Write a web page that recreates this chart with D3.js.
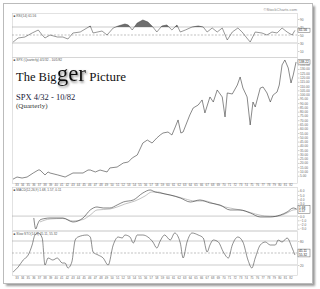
<!DOCTYPE html>
<html>
<head>
<meta charset="utf-8">
<script src="https://cdnjs.cloudflare.com/ajax/libs/d3/7.8.5/d3.min.js"></script>
<style>
body { margin: 0; background: #fff; }
svg { display: block; }
</style>
</head>
<body>
<div id="chart"></div>
<script>
// quarterly SPX
var priceDates = [1932.28, 1933.0, 1933.9, 1934.8, 1935.9, 1936.8, 1937.1, 1937.65, 1938.0, 1938.55, 1938.9, 1940.3, 1941.6, 1943.0, 1944.8, 1945.7, 1946.1, 1947.0, 1947.85, 1949.1, 1949.6, 1950.9, 1952.0, 1952.9, 1953.6, 1954.5, 1955.5, 1956.3, 1957.15, 1958.0, 1958.6, 1959.1, 1960.0, 1960.7, 1961.3, 1961.8, 1962.3, 1962.7, 1963.9, 1964.5, 1965.4, 1966.1, 1966.6, 1967.5, 1968.1, 1968.8, 1969.7, 1970.2, 1970.6, 1971.5, 1972.4, 1972.9, 1973.4, 1974.15, 1974.7, 1975.2, 1975.6, 1976.5, 1977.0, 1977.7, 1978.3, 1978.8, 1979.5, 1979.9, 1980.4, 1980.9, 1981.5, 1982.0, 1982.4, 1982.9];
var priceValues = [1.0, 3.5, 2.3, 3.5, 8.2, 11.7, 11.7, 8.2, 5.9, 9.4, 8.2, 5.9, 3.5, 8.2, 8.2, 11.7, 11.7, 9.4, 11.7, 9.4, 14.1, 15.2, 19.9, 21.1, 25.8, 29.3, 43.3, 46.8, 43.3, 49.2, 52.7, 55.0, 56.2, 52.7, 62.1, 70.3, 55.0, 56.2, 76.1, 84.3, 87.8, 93.7, 78.5, 97.2, 91.3, 105.4, 97.2, 73.8, 101.9, 100.7, 111.2, 120.6, 107.7, 97.2, 64.4, 91.3, 85.5, 107.7, 108.9, 101.9, 91.3, 99.5, 103.0, 111.2, 134.7, 140.5, 131.2, 113.6, 123.0, 138.2];

var rsiDates = [1932.3, 1933.2, 1934.4, 1935.7, 1936.8, 1937.5, 1938.0, 1938.9, 1940.2, 1941.2, 1942.1, 1943.0, 1944.3, 1945.5, 1946.1, 1946.6, 1948.2, 1949.1, 1950.2, 1951.1, 1952.3, 1952.9, 1953.6, 1954.5, 1955.5, 1956.4, 1957.3, 1958.0, 1958.9, 1959.8, 1960.7, 1961.6, 1962.2, 1963.1, 1964.3, 1965.4, 1966.3, 1967.0, 1967.9, 1968.8, 1969.7, 1970.6, 1971.5, 1972.5, 1973.25, 1974.1, 1974.7, 1975.6, 1976.8, 1977.7, 1978.6, 1979.5, 1980.4, 1981.3, 1982.2, 1982.7];
var rsiValues = [32.5, 42.5, 45, 55, 62.5, 50, 42.5, 50, 45, 45, 40, 55, 57.5, 67.5, 72.5, 55, 60, 50, 67.5, 72.5, 77.5, 75, 62.5, 80, 87.5, 82.5, 70, 57.5, 72.5, 75, 62.5, 75, 57.5, 62.5, 70, 72.5, 70, 57.5, 67.5, 57.5, 67.5, 37.5, 57.5, 67.5, 57.5, 42.5, 32.5, 57.5, 55, 50, 57.5, 55, 67.5, 57.5, 50, 61.56];

var macdDates = [1936.0, 1936.35, 1936.7, 1937.1, 1938.0, 1938.9, 1941.2, 1943.0, 1944.8, 1946.1, 1947.3, 1948.4, 1949.6, 1950.9, 1952.0, 1953.8, 1955.5, 1956.8, 1957.7, 1958.6, 1960.4, 1962.2, 1964.0, 1965.7, 1967.5, 1969.3, 1971.1, 1972.9, 1974.7, 1976.5, 1978.3, 1980.1, 1981.3, 1982.4, 1983.0];
var macdValues = [-0.45, -3.06, -1.87, -0.93, -0.57, -0.45, -0.45, -1.40, -0.45, 1.45, 2.16, 1.92, 1.92, 2.63, 3.34, 3.82, 5.48, 6.19, 5.72, 5.48, 5.00, 4.29, 3.34, 3.82, 3.11, 2.63, 1.45, 1.45, 0.74, -0.21, -0.21, 0.26, 0.97, 1.92, 1.68];
var signalDates = [1937.1, 1938.9, 1941.2, 1943.0, 1944.8, 1946.1, 1947.3, 1949.6, 1950.9, 1952.3, 1954.1, 1955.9, 1957.1, 1958.2, 1959.4, 1961.2, 1963.1, 1964.8, 1966.6, 1968.4, 1970.2, 1972.0, 1973.8, 1975.6, 1977.3, 1979.1, 1980.9, 1982.4, 1983.0];
var signalValues = [-1.40, -0.69, -0.57, -1.16, -0.81, 0.26, 1.45, 1.68, 2.16, 2.87, 3.58, 4.77, 5.72, 5.72, 5.24, 4.77, 4.06, 3.58, 3.58, 2.87, 2.16, 1.68, 1.21, 0.50, 0.02, -0.09, 0.50, 1.45, 1.57];

var stoDates = [1932.3, 1933.2, 1934.1, 1935.0, 1935.7, 1936.2, 1936.8, 1937.5, 1938.0, 1938.55, 1939.4, 1940.2, 1941.1, 1941.6, 1942.1, 1942.8, 1943.4, 1943.9, 1945.5, 1946.1, 1946.6, 1947.5, 1948.4, 1949.3, 1950.2, 1951.1, 1951.8, 1952.3, 1953.2, 1953.8, 1954.5, 1955.5, 1956.4, 1957.3, 1958.0, 1958.6, 1959.4, 1960.4, 1961.2, 1962.2, 1962.7, 1963.4, 1964.3, 1965.4, 1966.3, 1967.0, 1967.5, 1968.1, 1969.0, 1969.9, 1970.8, 1971.5, 1972.5, 1973.4, 1974.3, 1975.0, 1975.6, 1976.5, 1977.4, 1978.3, 1979.2, 1979.7, 1980.4, 1981.3, 1982.2, 1982.7];
var stoValues = [2.5, 15, 32.5, 45, 70, 95, 100, 87.5, 20, 37.5, 32.5, 37.5, 25, 25, 12.5, 27.5, 82.5, 90, 95, 90, 52.5, 45, 37.5, 20, 70, 90, 87.5, 95, 90, 75, 95, 95, 90, 77.5, 62.5, 80, 95, 82.5, 100, 75, 37.5, 77.5, 100, 95, 87.5, 52.5, 70, 82.5, 77.5, 52.5, 37.5, 70, 90, 77.5, 32.5, 12.5, 37.5, 70, 77.5, 70, 70, 82.5, 77.5, 87.5, 62.5, 45];

var yearTicks = [1933, 1934, 1935, 1936, 1937, 1938, 1939, 1940, 1941, 1942, 1943, 1944, 1945, 1946, 1947, 1948, 1949, 1950, 1951, 1952, 1953, 1954, 1955, 1956, 1957, 1958, 1959, 1960, 1961, 1962, 1963, 1964, 1965, 1966, 1967, 1968, 1969, 1970, 1971, 1972, 1973, 1974, 1975, 1976, 1977, 1978, 1979, 1980, 1981, 1982];
var priceTicks = [5, 10, 15, 20, 25, 30, 35, 40, 45, 50, 55, 60, 65, 70, 75, 80, 85, 90, 95, 100, 105, 110, 115, 120, 125, 130, 135];
var rsiTicks = [10, 30, 50, 70, 90];
var macdTicks = [-3, -2, -1, 0, 1, 2, 3, 4, 5, 6];
var stoTicks = [20, 80];

var width = 320,
    height = 289,
    left = 12,
    right = 297;

var svg = d3.select("#chart")
    .append("svg")
    .attr("width", width)
    .attr("height", height);

var defs = svg.append("defs");
defs.append("filter")
    .attr("id", "blur")
    .append("feGaussianBlur")
    .attr("stdDeviation", 1.2);
var shadow = defs.append("filter")
    .attr("id", "gershadow")
    .attr("x", "-20%").attr("y", "-20%").attr("width", "150%").attr("height", "150%");
shadow.append("feDropShadow")
    .attr("dx", 1).attr("dy", 1.5)
    .attr("stdDeviation", 1)
    .attr("flood-color", "#777");

// paper with shadow
svg.append("rect")
    .attr("x", 6).attr("y", 6)
    .attr("width", 309).attr("height", 280)
    .attr("fill", "#999")
    .attr("filter", "url(#blur)");
svg.append("rect")
    .attr("x", 3.5).attr("y", 3.5)
    .attr("width", 309).attr("height", 280)
    .attr("fill", "#fff")
    .attr("stroke", "#bbb")
    .attr("stroke-width", 1);

var x = d3.scaleLinear()
    .domain([1932.1, 1983.07])
    .range([left, right]);

var tiny = "Liberation Sans, Arial, sans-serif";

function panel(top, bottom, label) {
    var g = svg.append("g");
    g.append("rect")
        .attr("x", left + 0.5).attr("y", top + 0.5)
        .attr("width", right - left).attr("height", bottom - top)
        .attr("fill", "none")
        .attr("stroke", "#cfcfcf")
        .attr("stroke-width", 0.6);
    g.append("text")
        .attr("x", left + 1.5).attr("y", top + 3.5)
        .attr("font-family", tiny)
        .attr("font-size", 3.2)
        .attr("fill", "#555")
        .text(label);
    return g;
}

function rightAxis(g, scale, ticks, fmt) {
    var ax = g.append("g")
        .attr("transform", "translate(" + (right + 1) + ",0)")
        .call(d3.axisRight(scale).tickValues(ticks).tickSize(1.5).tickFormat(fmt));
    ax.select(".domain").remove();
    ax.selectAll("line").attr("stroke", "#999").attr("stroke-width", 0.5);
    ax.selectAll("text")
        .attr("x", 2)
        .attr("font-family", tiny)
        .attr("font-size", 3.2)
        .attr("fill", "#666");
}

function valueBox(g, yPos, lines) {
    var h = lines.length * 3.4 + 1;
    g.append("rect")
        .attr("x", right + 1).attr("y", yPos - h / 2)
        .attr("width", 12).attr("height", h)
        .attr("fill", "#fff")
        .attr("stroke", "#666")
        .attr("stroke-width", 0.5);
    g.selectAll(null)
        .data(lines)
        .enter().append("text")
        .attr("x", right + 2)
        .attr("y", function(d, i) { return yPos - h / 2 + 3.2 + i * 3.4; })
        .attr("font-family", tiny)
        .attr("font-size", 3.2)
        .attr("fill", "#222")
        .text(function(d) { return d; });
}

function hline(g, scale, v, dashed) {
    g.append("line")
        .attr("x1", left).attr("x2", right)
        .attr("y1", scale(v)).attr("y2", scale(v))
        .attr("stroke", dashed ? "#999" : "#aaa")
        .attr("stroke-width", 0.6)
        .attr("stroke-dasharray", dashed ? "2,1.5" : null);
}

function xLabels(yPos) {
    svg.append("g")
        .selectAll("text")
        .data(yearTicks)
        .enter().append("text")
        .attr("x", function(d) { return x(d); })
        .attr("y", yPos)
        .attr("text-anchor", "middle")
        .attr("font-family", tiny)
        .attr("font-size", 3)
        .attr("fill", "#666")
        .text(function(d) { return String(d).slice(2); });
}

// ---- RSI panel
var yRsi = d3.scaleLinear().domain([-5, 105]).range([57, 13]);
var gRsi = panel(13, 57, "\u25A0 RSI(14) 61.56");
hline(gRsi, yRsi, 70, false);
hline(gRsi, yRsi, 50, true);
hline(gRsi, yRsi, 30, false);
var rsiData = rsiDates.map(function(d, i) { return [d, rsiValues[i]]; });
defs.append("clipPath").attr("id", "over70")
    .append("rect")
    .attr("x", left).attr("y", 13)
    .attr("width", right - left).attr("height", yRsi(70) - 13);
gRsi.append("path")
    .datum(rsiData)
    .attr("clip-path", "url(#over70)")
    .attr("fill", "#6e6e6e")
    .attr("d", d3.area()
        .x(function(d) { return x(d[0]); })
        .y0(yRsi(70))
        .y1(function(d) { return yRsi(d[1]); }));
gRsi.append("path")
    .datum(rsiData)
    .attr("fill", "none")
    .attr("stroke", "#444")
    .attr("stroke-width", 0.55)
    .attr("d", d3.line()
        .x(function(d) { return x(d[0]); })
        .y(function(d) { return yRsi(d[1]); }));
rightAxis(gRsi, yRsi, rsiTicks, d3.format("d"));
valueBox(gRsi, yRsi(61.56), ["61.56"]);

// ---- price panel
var yPrice = d3.scaleLinear().domain([-3.5, 144]).range([183, 57]);
var gPrice = panel(57, 183, "\u25A0 SPX (Quarterly) 4/1/32 - 10/1/82");
gPrice.append("path")
    .datum(priceDates.map(function(d, i) { return [d, priceValues[i]]; }))
    .attr("fill", "none")
    .attr("stroke", "#3a3a3a")
    .attr("stroke-width", 0.6)
    .attr("stroke-linejoin", "round")
    .attr("d", d3.line()
        .x(function(d) { return x(d[0]); })
        .y(function(d) { return yPrice(d[1]); }));
rightAxis(gPrice, yPrice, priceTicks, d3.format(".2f"));
valueBox(gPrice, yPrice(138.2), ["138.22"]);

// title
var title = svg.append("text")
    .attr("x", 16).attr("y", 81)
    .attr("font-family", "Liberation Serif, Times New Roman, serif")
    .attr("fill", "#111");
title.append("tspan").attr("font-size", 12.5).text("The Big");
title.append("tspan").attr("font-size", 23).attr("filter", "url(#gershadow)").text("ger");
title.append("tspan").attr("font-size", 13).text(" Picture");

svg.append("text")
    .attr("x", 16).attr("y", 100)
    .attr("font-family", "Liberation Serif, Times New Roman, serif")
    .attr("font-size", 8.5)
    .attr("fill", "#1a1a3a")
    .text("SPX 4/32 - 10/82");
svg.append("text")
    .attr("x", 16).attr("y", 108)
    .attr("font-family", "Liberation Serif, Times New Roman, serif")
    .attr("font-size", 7)
    .attr("fill", "#333")
    .text("(Quarterly)");

svg.append("text")
    .attr("x", 297).attr("y", 11)
    .attr("text-anchor", "end")
    .attr("font-family", tiny)
    .attr("font-size", 4)
    .attr("fill", "#888")
    .text("\u00A9StockCharts.com");

xLabels(186);

// ---- MACD panel
var yMacd = d3.scaleLinear().domain([-3.3, 6.9]).range([230, 187]);
var gMacd = panel(187, 230, "\u25A0 MACD(12,26,9) 1.68, 1.57, 0.11");
hline(gMacd, yMacd, 0, false);
gMacd.append("path")
    .datum(signalDates.map(function(d, i) { return [d, signalValues[i]]; }))
    .attr("fill", "none")
    .attr("stroke", "#999")
    .attr("stroke-width", 0.6)
    .attr("d", d3.line().curve(d3.curveMonotoneX)
        .x(function(d) { return x(d[0]); })
        .y(function(d) { return yMacd(d[1]); }));
gMacd.append("path")
    .datum(macdDates.map(function(d, i) { return [d, macdValues[i]]; }))
    .attr("fill", "none")
    .attr("stroke", "#222")
    .attr("stroke-width", 0.55)
    .attr("d", d3.line().curve(d3.curveMonotoneX)
        .x(function(d) { return x(d[0]); })
        .y(function(d) { return yMacd(d[1]); }));
rightAxis(gMacd, yMacd, macdTicks, d3.format(".1f"));
valueBox(gMacd, yMacd(1.6), ["1.68", "1.57"]);

// ---- stochastic panel
var ySto = d3.scaleLinear().domain([-5, 105]).range([275, 231]);
var gSto = panel(231, 275, "\u25A0 Slow STO(14,3) 45.11, 55.32");
hline(gSto, ySto, 80, false);
hline(gSto, ySto, 50, true);
hline(gSto, ySto, 20, false);
gSto.append("path")
    .datum(stoDates.map(function(d, i) { return [d, stoValues[i]]; }))
    .attr("fill", "none")
    .attr("stroke", "#333")
    .attr("stroke-width", 0.55)
    .attr("d", d3.line().curve(d3.curveMonotoneX)
        .x(function(d) { return x(d[0]); })
        .y(function(d) { return ySto(d[1]); }));
rightAxis(gSto, ySto, stoTicks, d3.format("d"));
valueBox(gSto, ySto(50), ["45.11", "55.32"]);

xLabels(279);
</script>
</body>
</html>
